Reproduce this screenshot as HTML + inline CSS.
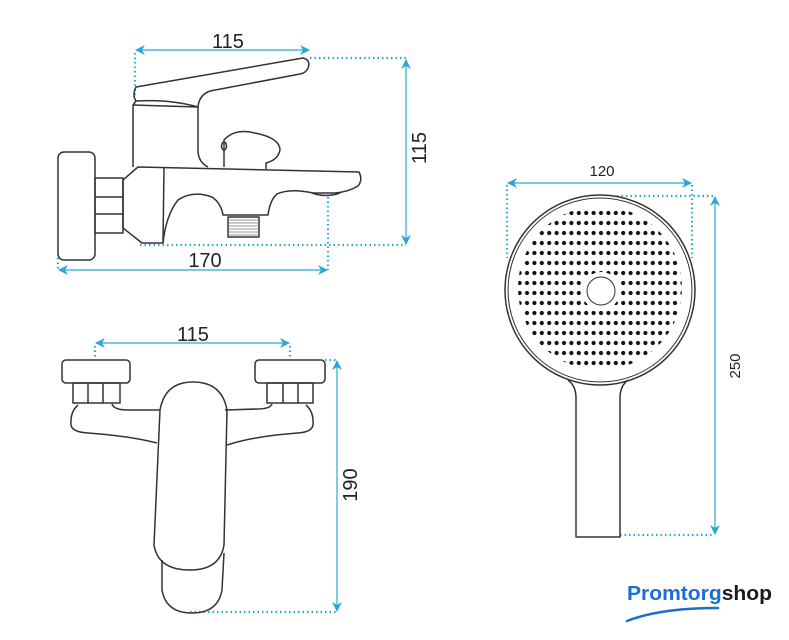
<!DOCTYPE html>
<html><head><meta charset="utf-8"><style>
html,body{margin:0;padding:0;background:#fff;}
svg{display:block;}
</style></head><body>
<svg width="789" height="640" viewBox="0 0 789 640" xmlns="http://www.w3.org/2000/svg">
<defs>
<marker id="ar" markerWidth="10" markerHeight="10" refX="9" refY="5" orient="auto-start-reverse" markerUnits="userSpaceOnUse">
<path d="M0,0 L10,5 L0,10 L3,5 Z" fill="#2aa7d9"/>
</marker>
<pattern id="dp" patternUnits="userSpaceOnUse" x="597.3" y="208" width="7.4" height="10">
<circle cx="3.7" cy="5" r="2.1" fill="#111"/>
</pattern>
<clipPath id="cc"><circle cx="600" cy="288" r="82"/></clipPath>
</defs>
<g fill="none" stroke="#2aa7d9" stroke-width="1.2">
<line x1="136" y1="50" x2="309" y2="50" marker-start="url(#ar)" marker-end="url(#ar)"/>
<line x1="406" y1="60" x2="406" y2="244" marker-start="url(#ar)" marker-end="url(#ar)"/>
<line x1="59" y1="270" x2="327" y2="270" marker-start="url(#ar)" marker-end="url(#ar)"/>
<line x1="96" y1="343" x2="289" y2="343" marker-start="url(#ar)" marker-end="url(#ar)"/>
<line x1="337" y1="361" x2="337" y2="611" marker-start="url(#ar)" marker-end="url(#ar)"/>
<line x1="508" y1="183" x2="691" y2="183" marker-start="url(#ar)" marker-end="url(#ar)"/>
<line x1="715" y1="197" x2="715" y2="534" marker-start="url(#ar)" marker-end="url(#ar)"/>
</g>
<g fill="none" stroke="#2aa7d9" stroke-width="2.2" stroke-dasharray="1.5 3">
<line x1="135" y1="53" x2="135" y2="96"/>
<line x1="310" y1="58" x2="406" y2="58"/>
<line x1="140" y1="245" x2="406" y2="245"/>
<line x1="328" y1="197" x2="328" y2="270"/>
<line x1="58" y1="258" x2="58" y2="270"/>
<line x1="95" y1="346" x2="95" y2="358"/>
<line x1="290" y1="346" x2="290" y2="358"/>
<line x1="325" y1="360" x2="337" y2="360"/>
<line x1="190" y1="612" x2="337" y2="612"/>
<line x1="507" y1="185" x2="507" y2="258"/>
<line x1="692" y1="185" x2="692" y2="258"/>
<line x1="617" y1="196" x2="713" y2="196"/>
<line x1="620" y1="535" x2="713" y2="535"/>
</g>
<g font-family="Liberation Sans, sans-serif" fill="#222">
<text x="228" y="48" font-size="20" text-anchor="middle">115</text>
<text x="205" y="267" font-size="20" text-anchor="middle">170</text>
<text x="193" y="341" font-size="20" text-anchor="middle">115</text>
<text transform="translate(426,148) rotate(-90)" font-size="20" text-anchor="middle">115</text>
<text transform="translate(357,485) rotate(-90)" font-size="20" text-anchor="middle">190</text>
<text x="602" y="176" font-size="15" text-anchor="middle">120</text>
<text transform="translate(740,366) rotate(-90)" font-size="15" text-anchor="middle">250</text>
</g>
<g fill="none" stroke="#333" stroke-width="1.5" stroke-linejoin="round">
<rect x="58" y="152" width="37" height="108" rx="6"/>
<rect x="95" y="178" width="28" height="55"/>
<line x1="95" y1="197" x2="123" y2="197"/><line x1="95" y1="214" x2="123" y2="214"/>
<path d="M123,180 L138,167 L359,172 Q363,180 358,186 Q348,192 335,193 L313,193 Q290,188 277,194 Q270,200 268,215 L223,215 Q221,203 212,197 Q193,190 178,200 Q166,215 163,243 L142,243 L123,228 Z"/>
<line x1="164" y1="167" x2="163" y2="243"/>
<rect x="228" y="217" width="31" height="20"/>
<g stroke-width="0.6"><line x1="229" y1="220" x2="258" y2="220"/><line x1="229" y1="223" x2="258" y2="223"/><line x1="229" y1="226" x2="258" y2="226"/><line x1="229" y1="229" x2="258" y2="229"/><line x1="229" y1="232" x2="258" y2="232"/><line x1="229" y1="235" x2="258" y2="235"/></g>
<path d="M312,193 Q326,198 340,193"/>
<path d="M133,167 L133,105 L198,107 L198,150 Q198,162 208,167"/>
<path d="M136,87 L303,58 Q311,60 308,68 Q306,73 300,74 L210,91 Q199,95 198,107 Q170,99 136,101 Q132,95 136,87 Z"/>
<path d="M136,101 L133,105"/>
<path d="M224,167 L224,140 Q235,128 255,133 Q280,138 280,150 Q278,160 266,163 L266,169"/>
<ellipse cx="224" cy="146" rx="2.5" ry="4"/>
<rect x="62" y="360" width="68" height="23" rx="4"/>
<rect x="73" y="383" width="47" height="20"/>
<line x1="88" y1="383" x2="88" y2="403"/><line x1="103" y1="383" x2="103" y2="403"/>
<rect x="255" y="360" width="70" height="23" rx="4"/>
<rect x="267" y="383" width="46" height="20"/>
<line x1="283" y1="383" x2="283" y2="403"/><line x1="298" y1="383" x2="298" y2="403"/>
<path d="M78,405 Q70,412 71,425 Q72,432 88,433 Q130,436 157,443"/>
<path d="M112,404 Q114,410 128,410 L160,410"/>
<path d="M225,410 L257,409 Q270,409 272,404"/>
<path d="M306,405 Q314,412 313,425 Q312,432 298,433 Q255,436 227,445"/>
<path d="M160,410 Q165,382 193,382 Q222,382 227,410 L224,545 Q220,570 190,570 Q158,570 154,545 Z"/>
<path d="M162,560 L162,590 Q166,613 192,613 Q218,613 222,590 L224,553"/>
<circle cx="600" cy="290" r="95"/>
<circle cx="600" cy="290" r="92" stroke-width="1"/>
<path d="M568,380 Q576,386 576,398 L576,537 L620,537 L620,398 Q620,386 628,380"/>
</g>
<rect x="510" y="200" width="180" height="180" fill="url(#dp)" clip-path="url(#cc)"/>
<circle cx="601" cy="291" r="19" fill="#fff"/>
<circle cx="601" cy="291" r="14" fill="none" stroke="#333" stroke-width="1"/>
<text x="627" y="600" font-family="Liberation Sans, sans-serif" font-weight="bold" font-size="20" textLength="145" lengthAdjust="spacingAndGlyphs"><tspan fill="#1a6fd0">Promtorg</tspan><tspan fill="#1b1b1b">shop</tspan></text>
<path d="M627,621 Q660,608 718,608" fill="none" stroke="#1a6fd0" stroke-width="2.5" stroke-linecap="round"/>
</svg>
</body></html>
